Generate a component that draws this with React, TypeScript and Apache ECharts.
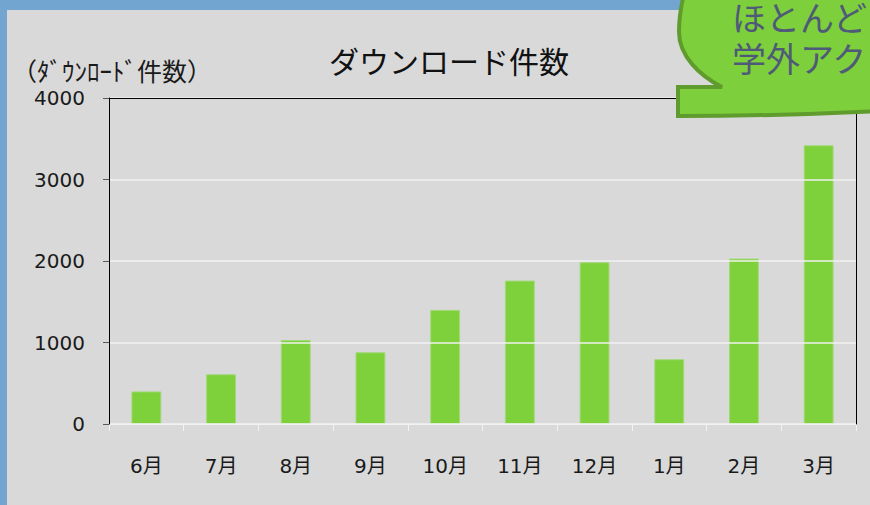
import React, { useEffect, useRef } from "react";
import * as echarts from "echarts";

const categories = ["6月", "7月", "8月", "9月", "10月", "11月", "12月", "1月", "2月", "3月"];
const downloads = [400, 610, 1030, 880, 1400, 1760, 1985, 795, 2030, 3420];
const yTicks = [0, 1000, 2000, 3000, 4000];
const titleText = "ダウンロード件数";
const yAxisName = "（ﾀﾞｳﾝﾛｰﾄﾞ件数）";
const bubbleLines = ["ほとんど", "学外アク"];

const bubblePath =
  "M 678 87 L 722 87 C 700 76 679 56 679 32 C 679 18 681 6 684 -6 L 880 -6 L 880 111 C 820 114 760 116 678 116 Z";

let registered = false;
function ensureShape() {
  if (registered) return;
  echarts.graphic.registerShape("bubble", (echarts.graphic as any).extendPath(bubblePath, {}));
  registered = true;
}

const latin = "'DejaVu Sans', 'Noto Sans CJK JP', sans-serif";
const cjk = "'Noto Sans CJK JP', sans-serif";

export default function App() {
  const ref = useRef<HTMLDivElement>(null);
  useEffect(() => {
    if (!ref.current) return;
    ensureShape();
    const chart = echarts.init(ref.current, null, { renderer: "svg" });
    chart.setOption({
      animation: false,
      backgroundColor: "#d9d9d9",
      grid: {
        left: 109,
        right: 14,
        top: 98,
        bottom: 81,
      },
      xAxis: [
        {
          type: "category",
          data: categories,
          axisLine: { show: true, onZero: false, lineStyle: { color: "#f2f2f2", width: 1 } },
          axisTick: { show: true, length: 7, lineStyle: { color: "#f2f2f2" } },
          axisLabel: { color: "#1a1a1a", fontSize: 20, fontFamily: latin, margin: 32 },
          z: 3,
        },
        {
          type: "category",
          data: categories,
          position: "top",
          axisLine: { show: true, onZero: false, lineStyle: { color: "#000", width: 1 } },
          axisTick: { show: false },
          axisLabel: { show: false },
          splitLine: { show: false },
          z: 5,
        },
      ],
      yAxis: [
        {
          type: "value",
          min: 0,
          max: 4000,
          interval: 1000,
          name: yAxisName,
          nameLocation: "end",
          nameGap: 28,
          nameTextStyle: {
            color: "#1a1a1a",
            fontSize: 25,
            fontFamily: cjk,
            align: "center",
            verticalAlign: "middle",
            padding: [0, 0, 0, 6],
          },
          axisLine: { show: true, onZero: false, lineStyle: { color: "#000", width: 1 } },
          axisTick: { show: true, length: 6, lineStyle: { color: "#595959" } },
          axisLabel: {
            color: "#1a1a1a",
            fontSize: 20,
            fontFamily: latin,
            margin: 24,
            padding: [0, 0, 6, 0],
            formatter: (v: number) => (yTicks.includes(v) ? String(v) : ""),
          },
          splitLine: { show: true, lineStyle: { color: "#f0f0f0", width: 1.5 } },
          z: 5,
        },
        {
          type: "value",
          min: 0,
          max: 4000,
          interval: 1000,
          position: "right",
          axisLine: { show: true, onZero: false, lineStyle: { color: "#000", width: 1 } },
          axisTick: { show: false },
          axisLabel: { show: false },
          splitLine: { show: false },
          z: 5,
        },
      ],
      series: [
        {
          type: "bar",
          data: downloads,
          xAxisIndex: 0,
          yAxisIndex: 0,
          barWidth: "40%",
          itemStyle: { color: "#7ed13b", borderColor: "#a2d978", borderWidth: 1 },
        },
      ],
      graphic: [
        { type: "rect", shape: { x: 0, y: 0, width: 870, height: 10 }, style: { fill: "#72a5d0" }, z: 100 },
        { type: "rect", shape: { x: 0, y: 0, width: 7, height: 505 }, style: { fill: "#72a5d0" }, z: 100 },
        {
          type: "text",
          x: 449,
          y: 60,
          style: {
            text: titleText,
            fill: "#111",
            fontSize: 30,
            fontFamily: cjk,
            textAlign: "center",
            textVerticalAlign: "middle",
          },
          z: 100,
        },
        {
          type: "bubble",
          x: 0,
          y: 0,
          style: { fill: "#7dcf3b", stroke: "#5f9c2d", lineWidth: 4 },
          z: 101,
        },
        {
          type: "text",
          x: 732,
          y: -4,
          style: {
            text: bubbleLines.join("\n"),
            fill: "#4f5a78",
            fontSize: 34,
            lineHeight: 41,
            fontFamily: cjk,
            textAlign: "left",
            textVerticalAlign: "top",
          },
          z: 102,
        },
      ],
    });
    return () => chart.dispose();
  }, []);
  return (
    <div
      ref={ref}
      style={{ position: "absolute", left: 0, top: 0, width: 870, height: 505 }}
    />
  );
}
